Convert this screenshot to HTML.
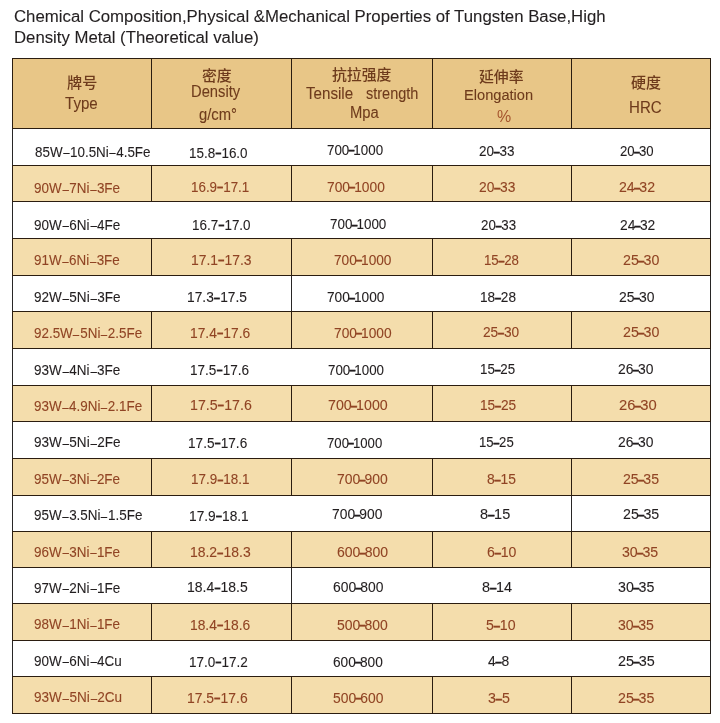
<!DOCTYPE html><html><head><meta charset="utf-8"><style>
html,body{margin:0;padding:0;background:#fff;}
body{width:720px;height:723px;position:relative;overflow:hidden;font-family:"Liberation Sans","Noto Sans CJK SC",Arial,sans-serif;}
.t{position:absolute;white-space:nowrap;transform-origin:0 0;line-height:1;-webkit-text-stroke:0.1px currentColor;}
.d{font-weight:bold;font-size:0.7em;margin:0 0.5px;vertical-align:1.7px;-webkit-text-stroke:1px currentColor;}.m3{margin:0 -1.2px !important;vertical-align:0.5px !important;}.m4{margin:0 -0.4px !important;vertical-align:0 !important;}.m5{margin:0 -1px !important;vertical-align:0 !important;}.d2{margin:0 -1.6px;font-size:0.85em;vertical-align:1.3px;-webkit-text-stroke:0.6px currentColor;}.ns{-webkit-text-stroke:0;}.m{display:inline-block;transform:scaleX(0.86);vertical-align:-0.6px;}.cj{-webkit-text-stroke:0;font-weight:500;}
.b{position:absolute;}
</style></head><body>
<div class="b" style="left:12px;top:58px;width:699px;height:71px;background:#e8c687"></div>
<div class="b" style="left:12px;top:165px;width:699px;height:37px;background:#f4ddac"></div>
<div class="b" style="left:12px;top:238px;width:699px;height:38px;background:#f4ddac"></div>
<div class="b" style="left:12px;top:311px;width:699px;height:38px;background:#f4ddac"></div>
<div class="b" style="left:12px;top:385px;width:699px;height:37px;background:#f4ddac"></div>
<div class="b" style="left:12px;top:458px;width:699px;height:38px;background:#f4ddac"></div>
<div class="b" style="left:12px;top:531px;width:699px;height:37px;background:#f4ddac"></div>
<div class="b" style="left:12px;top:603px;width:699px;height:38px;background:#f4ddac"></div>
<div class="b" style="left:12px;top:676px;width:699px;height:38px;background:#f4ddac"></div>
<div class="b" style="left:12px;top:58px;width:699px;height:1px;background:#2b1d10"></div>
<div class="b" style="left:12px;top:128px;width:699px;height:1px;background:#2b1d10"></div>
<div class="b" style="left:12px;top:165px;width:699px;height:1px;background:#2b1d10"></div>
<div class="b" style="left:12px;top:201px;width:699px;height:1px;background:#2b1d10"></div>
<div class="b" style="left:12px;top:238px;width:699px;height:1px;background:#2b1d10"></div>
<div class="b" style="left:12px;top:275px;width:699px;height:1px;background:#2b1d10"></div>
<div class="b" style="left:12px;top:311px;width:699px;height:1px;background:#2b1d10"></div>
<div class="b" style="left:12px;top:348px;width:699px;height:1px;background:#2b1d10"></div>
<div class="b" style="left:12px;top:385px;width:699px;height:1px;background:#2b1d10"></div>
<div class="b" style="left:12px;top:421px;width:699px;height:1px;background:#2b1d10"></div>
<div class="b" style="left:12px;top:458px;width:699px;height:1px;background:#2b1d10"></div>
<div class="b" style="left:12px;top:495px;width:699px;height:1px;background:#2b1d10"></div>
<div class="b" style="left:12px;top:531px;width:699px;height:1px;background:#2b1d10"></div>
<div class="b" style="left:12px;top:567px;width:699px;height:1px;background:#2b1d10"></div>
<div class="b" style="left:12px;top:603px;width:699px;height:1px;background:#2b1d10"></div>
<div class="b" style="left:12px;top:640px;width:699px;height:1px;background:#2b1d10"></div>
<div class="b" style="left:12px;top:676px;width:699px;height:1px;background:#2b1d10"></div>
<div class="b" style="left:12px;top:713px;width:699px;height:1px;background:#2b1d10"></div>
<div class="b" style="left:12px;top:58px;width:1px;height:71px;background:#2b1d10"></div>
<div class="b" style="left:12px;top:129px;width:1px;height:36px;background:#282626"></div>
<div class="b" style="left:12px;top:165px;width:1px;height:37px;background:#2b1d10"></div>
<div class="b" style="left:12px;top:202px;width:1px;height:36px;background:#282626"></div>
<div class="b" style="left:12px;top:238px;width:1px;height:38px;background:#2b1d10"></div>
<div class="b" style="left:12px;top:276px;width:1px;height:35px;background:#282626"></div>
<div class="b" style="left:12px;top:311px;width:1px;height:38px;background:#2b1d10"></div>
<div class="b" style="left:12px;top:349px;width:1px;height:36px;background:#282626"></div>
<div class="b" style="left:12px;top:385px;width:1px;height:37px;background:#2b1d10"></div>
<div class="b" style="left:12px;top:422px;width:1px;height:36px;background:#282626"></div>
<div class="b" style="left:12px;top:458px;width:1px;height:38px;background:#2b1d10"></div>
<div class="b" style="left:12px;top:496px;width:1px;height:35px;background:#282626"></div>
<div class="b" style="left:12px;top:531px;width:1px;height:37px;background:#2b1d10"></div>
<div class="b" style="left:12px;top:568px;width:1px;height:35px;background:#282626"></div>
<div class="b" style="left:12px;top:603px;width:1px;height:38px;background:#2b1d10"></div>
<div class="b" style="left:12px;top:641px;width:1px;height:35px;background:#282626"></div>
<div class="b" style="left:12px;top:676px;width:1px;height:38px;background:#2b1d10"></div>
<div class="b" style="left:151px;top:58px;width:1px;height:71px;background:#2b1d10"></div>
<div class="b" style="left:151px;top:165px;width:1px;height:37px;background:#2b1d10"></div>
<div class="b" style="left:151px;top:238px;width:1px;height:38px;background:#2b1d10"></div>
<div class="b" style="left:151px;top:311px;width:1px;height:38px;background:#2b1d10"></div>
<div class="b" style="left:151px;top:385px;width:1px;height:37px;background:#2b1d10"></div>
<div class="b" style="left:151px;top:458px;width:1px;height:38px;background:#2b1d10"></div>
<div class="b" style="left:151px;top:531px;width:1px;height:37px;background:#2b1d10"></div>
<div class="b" style="left:151px;top:603px;width:1px;height:38px;background:#2b1d10"></div>
<div class="b" style="left:151px;top:676px;width:1px;height:38px;background:#2b1d10"></div>
<div class="b" style="left:291px;top:58px;width:1px;height:71px;background:#2b1d10"></div>
<div class="b" style="left:291px;top:165px;width:1px;height:37px;background:#2b1d10"></div>
<div class="b" style="left:291px;top:238px;width:1px;height:38px;background:#2b1d10"></div>
<div class="b" style="left:291px;top:276px;width:1px;height:35px;background:#282626"></div>
<div class="b" style="left:291px;top:311px;width:1px;height:38px;background:#2b1d10"></div>
<div class="b" style="left:291px;top:385px;width:1px;height:37px;background:#2b1d10"></div>
<div class="b" style="left:291px;top:458px;width:1px;height:38px;background:#2b1d10"></div>
<div class="b" style="left:291px;top:531px;width:1px;height:37px;background:#2b1d10"></div>
<div class="b" style="left:291px;top:568px;width:1px;height:35px;background:#282626"></div>
<div class="b" style="left:291px;top:603px;width:1px;height:38px;background:#2b1d10"></div>
<div class="b" style="left:291px;top:676px;width:1px;height:38px;background:#2b1d10"></div>
<div class="b" style="left:432px;top:58px;width:1px;height:71px;background:#2b1d10"></div>
<div class="b" style="left:432px;top:165px;width:1px;height:37px;background:#2b1d10"></div>
<div class="b" style="left:432px;top:238px;width:1px;height:38px;background:#2b1d10"></div>
<div class="b" style="left:432px;top:311px;width:1px;height:38px;background:#2b1d10"></div>
<div class="b" style="left:432px;top:385px;width:1px;height:37px;background:#2b1d10"></div>
<div class="b" style="left:432px;top:458px;width:1px;height:38px;background:#2b1d10"></div>
<div class="b" style="left:432px;top:531px;width:1px;height:37px;background:#2b1d10"></div>
<div class="b" style="left:432px;top:603px;width:1px;height:38px;background:#2b1d10"></div>
<div class="b" style="left:432px;top:676px;width:1px;height:38px;background:#2b1d10"></div>
<div class="b" style="left:571px;top:58px;width:1px;height:71px;background:#2b1d10"></div>
<div class="b" style="left:571px;top:165px;width:1px;height:37px;background:#2b1d10"></div>
<div class="b" style="left:571px;top:238px;width:1px;height:38px;background:#2b1d10"></div>
<div class="b" style="left:571px;top:311px;width:1px;height:38px;background:#2b1d10"></div>
<div class="b" style="left:571px;top:385px;width:1px;height:37px;background:#2b1d10"></div>
<div class="b" style="left:571px;top:458px;width:1px;height:38px;background:#2b1d10"></div>
<div class="b" style="left:571px;top:496px;width:1px;height:35px;background:#282626"></div>
<div class="b" style="left:571px;top:531px;width:1px;height:37px;background:#2b1d10"></div>
<div class="b" style="left:571px;top:603px;width:1px;height:38px;background:#2b1d10"></div>
<div class="b" style="left:571px;top:676px;width:1px;height:38px;background:#2b1d10"></div>
<div class="b" style="left:710px;top:58px;width:1px;height:71px;background:#2b1d10"></div>
<div class="b" style="left:710px;top:129px;width:1px;height:36px;background:#282626"></div>
<div class="b" style="left:710px;top:165px;width:1px;height:37px;background:#2b1d10"></div>
<div class="b" style="left:710px;top:202px;width:1px;height:36px;background:#282626"></div>
<div class="b" style="left:710px;top:238px;width:1px;height:38px;background:#2b1d10"></div>
<div class="b" style="left:710px;top:276px;width:1px;height:35px;background:#282626"></div>
<div class="b" style="left:710px;top:311px;width:1px;height:38px;background:#2b1d10"></div>
<div class="b" style="left:710px;top:349px;width:1px;height:36px;background:#282626"></div>
<div class="b" style="left:710px;top:385px;width:1px;height:37px;background:#2b1d10"></div>
<div class="b" style="left:710px;top:422px;width:1px;height:36px;background:#282626"></div>
<div class="b" style="left:710px;top:458px;width:1px;height:38px;background:#2b1d10"></div>
<div class="b" style="left:710px;top:496px;width:1px;height:35px;background:#282626"></div>
<div class="b" style="left:710px;top:531px;width:1px;height:37px;background:#2b1d10"></div>
<div class="b" style="left:710px;top:568px;width:1px;height:35px;background:#282626"></div>
<div class="b" style="left:710px;top:603px;width:1px;height:38px;background:#2b1d10"></div>
<div class="b" style="left:710px;top:641px;width:1px;height:35px;background:#282626"></div>
<div class="b" style="left:710px;top:676px;width:1px;height:38px;background:#2b1d10"></div>
<div class="t " id="t1" style="left:13.74px;top:8.70px;font-size:16px;color:#231f20;transform:scaleX(1.0493);">Chemical Composition,Physical &amp;Mechanical Properties of Tungsten Base,High</div>
<div class="t " id="t2" style="left:13.87px;top:29.76px;font-size:16px;color:#231f20;transform:scaleX(1.0468);">Density Metal (Theoretical value)</div>
<div class="t cj" id="h1a" style="left:66.56px;top:74.55px;font-size:15px;color:#6e3b1c;transform:scaleX(1.0094);">牌号</div>
<div class="t " id="h1b" style="left:64.68px;top:96.31px;font-size:16px;color:#6e3b1c;transform:scaleX(0.9429);">Type</div>
<div class="t cj" id="h2a" style="left:201.58px;top:67.97px;font-size:15px;color:#6e3b1c;transform:scaleX(0.9911);">密度</div>
<div class="t " id="h2b" style="left:190.86px;top:84.31px;font-size:16px;color:#6e3b1c;transform:scaleX(0.9204);">Density</div>
<div class="t " id="h2c" style="left:198.56px;top:107.01px;font-size:16px;color:#6e3b1c;transform:scaleX(0.9235);">g/cm°</div>
<div class="t cj" id="h3a" style="left:331.78px;top:67.41px;font-size:15px;color:#6e3b1c;transform:scaleX(0.9908);">抗拉强度</div>
<div class="t " id="h3b" style="left:305.70px;top:85.81px;font-size:16px;color:#6e3b1c;transform:scaleX(0.9465);">Tensile</div>
<div class="t " id="h3c" style="left:365.71px;top:85.81px;font-size:16px;color:#6e3b1c;transform:scaleX(0.9063);">strength</div>
<div class="t " id="h3d" style="left:349.80px;top:104.51px;font-size:16px;color:#6e3b1c;transform:scaleX(0.9240);">Mpa</div>
<div class="t cj" id="h4a" style="left:478.82px;top:68.69px;font-size:15px;color:#6e3b1c;transform:scaleX(0.9907);">延伸率</div>
<div class="t " id="h4b" style="left:463.72px;top:87.40px;font-size:15.5px;color:#6e3b1c;transform:scaleX(0.9432);">Elongation</div>
<div class="t ns" id="h4c" style="left:496.54px;top:109.01px;font-size:16px;color:#a5552e;transform:scaleX(0.9976);">%</div>
<div class="t cj" id="h5a" style="left:630.81px;top:75.15px;font-size:15px;color:#6e3b1c;transform:scaleX(1.0012);">硬度</div>
<div class="t " id="h5b" style="left:628.69px;top:99.70px;font-size:16px;color:#6e3b1c;transform:scaleX(0.9427);">HRC</div>
<div class="t " id="c1r0" style="left:34.81px;top:144.71px;font-size:14px;color:#231f20;transform:scaleX(0.9573);">85W<span class="m">–</span>10.5Ni<span class="m">–</span>4.5Fe</div>
<div class="t " id="c2r0" style="left:188.74px;top:145.71px;font-size:14px;color:#231f20;transform:scaleX(0.9613);">15.8<span class="d">–</span>16.0</div>
<div class="t " id="c3r0" style="left:326.69px;top:142.91px;font-size:14px;color:#231f20;transform:scaleX(0.9549);">700<span class="d d2 m3">–</span>1000</div>
<div class="t " id="c4r0" style="left:478.78px;top:143.91px;font-size:14px;color:#231f20;transform:scaleX(0.9595);">20<span class="d d2 m4">–</span>33</div>
<div class="t " id="c5r0" style="left:619.71px;top:143.91px;font-size:14px;color:#231f20;transform:scaleX(0.9399);">20<span class="d d2 m5">–</span>30</div>
<div class="t " id="c1r1" style="left:33.77px;top:180.91px;font-size:14px;color:#904424;transform:scaleX(0.9614);">90W<span class="m">–</span>7Ni<span class="m">–</span>3Fe</div>
<div class="t " id="c2r1" style="left:190.65px;top:179.91px;font-size:14px;color:#904424;transform:scaleX(0.9558);">16.9<span class="d">–</span>17.1</div>
<div class="t " id="c3r1" style="left:326.67px;top:179.91px;font-size:14px;color:#904424;transform:scaleX(0.9845);">700<span class="d d2 m3">–</span>1000</div>
<div class="t " id="c4r1" style="left:478.66px;top:179.91px;font-size:14px;color:#904424;transform:scaleX(0.9853);">20<span class="d d2 m4">–</span>33</div>
<div class="t " id="c5r1" style="left:618.61px;top:179.91px;font-size:14px;color:#904424;transform:scaleX(1.0070);">24<span class="d d2 m5">–</span>32</div>
<div class="t " id="c1r2" style="left:33.65px;top:217.71px;font-size:14px;color:#231f20;transform:scaleX(0.9634);">90W<span class="m">–</span>6Ni<span class="m">–</span>4Fe</div>
<div class="t " id="c2r2" style="left:191.71px;top:218.10px;font-size:14px;color:#231f20;transform:scaleX(0.9614);">16.7<span class="d">–</span>17.0</div>
<div class="t " id="c3r2" style="left:329.60px;top:217.41px;font-size:14px;color:#231f20;transform:scaleX(0.9589);">700<span class="d d2 m3">–</span>1000</div>
<div class="t " id="c4r2" style="left:480.77px;top:217.91px;font-size:14px;color:#231f20;transform:scaleX(0.9492);">20<span class="d d2 m4">–</span>33</div>
<div class="t " id="c5r2" style="left:619.57px;top:217.91px;font-size:14px;color:#231f20;transform:scaleX(0.9844);">24<span class="d d2 m5">–</span>32</div>
<div class="t " id="c1r3" style="left:33.79px;top:253.41px;font-size:14px;color:#904424;transform:scaleX(0.9580);">91W<span class="m">–</span>6Ni<span class="m">–</span>3Fe</div>
<div class="t " id="c2r3" style="left:190.60px;top:252.91px;font-size:14px;color:#904424;transform:scaleX(0.9936);">17.1<span class="d">–</span>17.3</div>
<div class="t " id="c3r3" style="left:333.59px;top:252.80px;font-size:14px;color:#904424;transform:scaleX(0.9784);">700<span class="d d2 m3">–</span>1000</div>
<div class="t " id="c4r3" style="left:483.52px;top:252.80px;font-size:14px;color:#904424;transform:scaleX(0.9451);">15<span class="d d2 m4">–</span>28</div>
<div class="t " id="c5r3" style="left:622.58px;top:252.80px;font-size:14px;color:#904424;transform:scaleX(1.0160);">25<span class="d d2 m5">–</span>30</div>
<div class="t " id="c1r4" style="left:33.65px;top:290.41px;font-size:14px;color:#231f20;transform:scaleX(0.9660);">92W<span class="m">–</span>5Ni<span class="m">–</span>3Fe</div>
<div class="t " id="c2r4" style="left:186.61px;top:290.41px;font-size:14px;color:#231f20;transform:scaleX(0.9832);">17.3<span class="d">–</span>17.5</div>
<div class="t " id="c3r4" style="left:326.65px;top:290.10px;font-size:14px;color:#231f20;transform:scaleX(0.9778);">700<span class="d d2 m3">–</span>1000</div>
<div class="t " id="c4r4" style="left:479.50px;top:290.10px;font-size:14px;color:#231f20;transform:scaleX(0.9717);">18<span class="d d2 m4">–</span>28</div>
<div class="t " id="c5r4" style="left:618.54px;top:290.10px;font-size:14px;color:#231f20;transform:scaleX(0.9939);">25<span class="d d2 m5">–</span>30</div>
<div class="t " id="c1r5" style="left:33.80px;top:326.41px;font-size:14px;color:#904424;transform:scaleX(0.9584);">92.5W<span class="m">–</span>5Ni<span class="m">–</span>2.5Fe</div>
<div class="t " id="c2r5" style="left:189.50px;top:325.91px;font-size:14px;color:#904424;transform:scaleX(0.9870);">17.4<span class="d">–</span>17.6</div>
<div class="t " id="c3r5" style="left:333.60px;top:325.91px;font-size:14px;color:#904424;transform:scaleX(0.9813);">700<span class="d d2 m3">–</span>1000</div>
<div class="t " id="c4r5" style="left:482.79px;top:324.71px;font-size:14px;color:#904424;transform:scaleX(0.9778);">25<span class="d d2 m4">–</span>30</div>
<div class="t " id="c5r5" style="left:622.58px;top:324.71px;font-size:14px;color:#904424;transform:scaleX(1.0160);">25<span class="d d2 m5">–</span>30</div>
<div class="t " id="c1r6" style="left:33.65px;top:362.91px;font-size:14px;color:#231f20;transform:scaleX(0.9634);">93W<span class="m">–</span>4Ni<span class="m">–</span>3Fe</div>
<div class="t " id="c2r6" style="left:189.51px;top:363.10px;font-size:14px;color:#231f20;transform:scaleX(0.9696);">17.5<span class="d">–</span>17.6</div>
<div class="t " id="c3r6" style="left:327.61px;top:362.91px;font-size:14px;color:#231f20;transform:scaleX(0.9532);">700<span class="d d2 m3">–</span>1000</div>
<div class="t " id="c4r6" style="left:479.62px;top:361.91px;font-size:14px;color:#231f20;transform:scaleX(0.9505);">15<span class="d d2 m4">–</span>25</div>
<div class="t " id="c5r6" style="left:617.67px;top:361.91px;font-size:14px;color:#231f20;transform:scaleX(0.9918);">26<span class="d d2 m5">–</span>30</div>
<div class="t " id="c1r7" style="left:33.80px;top:398.91px;font-size:14px;color:#904424;transform:scaleX(0.9584);">93W<span class="m">–</span>4.9Ni<span class="m">–</span>2.1Fe</div>
<div class="t " id="c2r7" style="left:189.72px;top:398.10px;font-size:14px;color:#904424;transform:scaleX(1.0134);">17.5<span class="d">–</span>17.6</div>
<div class="t " id="c3r7" style="left:327.57px;top:398.30px;font-size:14px;color:#904424;transform:scaleX(1.0164);">700<span class="d d2 m3">–</span>1000</div>
<div class="t " id="c4r7" style="left:479.68px;top:398.30px;font-size:14px;color:#904424;transform:scaleX(0.9758);">15<span class="d d2 m4">–</span>25</div>
<div class="t " id="c5r7" style="left:618.53px;top:398.30px;font-size:14px;color:#904424;transform:scaleX(1.0546);">26<span class="d d2 m5">–</span>30</div>
<div class="t " id="c1r8" style="left:33.65px;top:435.41px;font-size:14px;color:#231f20;transform:scaleX(0.9660);">93W<span class="m">–</span>5Ni<span class="m">–</span>2Fe</div>
<div class="t " id="c2r8" style="left:187.69px;top:435.71px;font-size:14px;color:#231f20;transform:scaleX(0.9715);">17.5<span class="d">–</span>17.6</div>
<div class="t " id="c3r8" style="left:326.65px;top:435.71px;font-size:14px;color:#231f20;transform:scaleX(0.9401);">700<span class="d d2 m3">–</span>1000</div>
<div class="t " id="c4r8" style="left:478.51px;top:434.91px;font-size:14px;color:#231f20;transform:scaleX(0.9389);">15<span class="d d2 m4">–</span>25</div>
<div class="t " id="c5r8" style="left:617.67px;top:434.91px;font-size:14px;color:#231f20;transform:scaleX(0.9918);">26<span class="d d2 m5">–</span>30</div>
<div class="t " id="c1r9" style="left:33.77px;top:471.71px;font-size:14px;color:#904424;transform:scaleX(0.9614);">95W<span class="m">–</span>3Ni<span class="m">–</span>2Fe</div>
<div class="t " id="c2r9" style="left:190.73px;top:472.41px;font-size:14px;color:#904424;transform:scaleX(0.9600);">17.9<span class="d">–</span>18.1</div>
<div class="t " id="c3r9" style="left:336.55px;top:472.41px;font-size:14px;color:#904424;transform:scaleX(0.9959);">700<span class="d d2 m3">–</span>900</div>
<div class="t " id="c4r9" style="left:486.58px;top:472.41px;font-size:14px;color:#904424;transform:scaleX(0.9885);">8<span class="d d2 m4">–</span>15</div>
<div class="t " id="c5r9" style="left:622.61px;top:472.41px;font-size:14px;color:#904424;transform:scaleX(1.0076);">25<span class="d d2 m5">–</span>35</div>
<div class="t " id="c1r10" style="left:33.66px;top:508.10px;font-size:14px;color:#231f20;transform:scaleX(0.9599);">95W<span class="m">–</span>3.5Ni<span class="m">–</span>1.5Fe</div>
<div class="t " id="c2r10" style="left:188.78px;top:508.71px;font-size:14px;color:#231f20;transform:scaleX(0.9802);">17.9<span class="d">–</span>18.1</div>
<div class="t " id="c3r10" style="left:331.60px;top:507.41px;font-size:14px;color:#231f20;transform:scaleX(0.9892);">700<span class="d d2 m3">–</span>900</div>
<div class="t " id="c4r10" style="left:479.71px;top:507.41px;font-size:14px;color:#231f20;transform:scaleX(1.0352);">8<span class="d d2 m4">–</span>15</div>
<div class="t " id="c5r10" style="left:622.50px;top:506.71px;font-size:14px;color:#231f20;transform:scaleX(1.0130);">25<span class="d d2 m5">–</span>35</div>
<div class="t " id="c1r11" style="left:33.77px;top:544.71px;font-size:14px;color:#904424;transform:scaleX(0.9614);">96W<span class="m">–</span>3Ni<span class="m">–</span>1Fe</div>
<div class="t " id="c2r11" style="left:189.64px;top:545.41px;font-size:14px;color:#904424;transform:scaleX(0.9954);">18.2<span class="d">–</span>18.3</div>
<div class="t " id="c3r11" style="left:336.71px;top:545.10px;font-size:14px;color:#904424;transform:scaleX(1.0015);">600<span class="d d2 m3">–</span>800</div>
<div class="t " id="c4r11" style="left:486.70px;top:545.10px;font-size:14px;color:#904424;transform:scaleX(1.0068);">6<span class="d d2 m4">–</span>10</div>
<div class="t " id="c5r11" style="left:621.81px;top:545.10px;font-size:14px;color:#904424;transform:scaleX(1.0109);">30<span class="d d2 m5">–</span>35</div>
<div class="t " id="c1r12" style="left:33.65px;top:580.71px;font-size:14px;color:#231f20;transform:scaleX(0.9634);">97W<span class="m">–</span>2Ni<span class="m">–</span>1Fe</div>
<div class="t " id="c2r12" style="left:186.76px;top:580.41px;font-size:14px;color:#231f20;transform:scaleX(0.9969);">18.4<span class="d">–</span>18.5</div>
<div class="t " id="c3r12" style="left:332.64px;top:580.41px;font-size:14px;color:#231f20;transform:scaleX(0.9914);">600<span class="d d2 m3">–</span>800</div>
<div class="t " id="c4r12" style="left:481.67px;top:580.41px;font-size:14px;color:#231f20;transform:scaleX(1.0305);">8<span class="d d2 m4">–</span>14</div>
<div class="t " id="c5r12" style="left:617.64px;top:580.41px;font-size:14px;color:#231f20;transform:scaleX(1.0152);">30<span class="d d2 m5">–</span>35</div>
<div class="t " id="c1r13" style="left:33.77px;top:617.10px;font-size:14px;color:#904424;transform:scaleX(0.9614);">98W<span class="m">–</span>1Ni<span class="m">–</span>1Fe</div>
<div class="t " id="c2r13" style="left:189.50px;top:617.71px;font-size:14px;color:#904424;transform:scaleX(0.9870);">18.4<span class="d">–</span>18.6</div>
<div class="t " id="c3r13" style="left:336.73px;top:617.71px;font-size:14px;color:#904424;transform:scaleX(0.9974);">500<span class="d d2 m3">–</span>800</div>
<div class="t " id="c4r13" style="left:485.68px;top:617.71px;font-size:14px;color:#904424;transform:scaleX(1.0109);">5<span class="d d2 m4">–</span>10</div>
<div class="t " id="c5r13" style="left:617.57px;top:617.71px;font-size:14px;color:#904424;transform:scaleX(1.0040);">30<span class="d d2 m5">–</span>35</div>
<div class="t " id="c1r14" style="left:33.66px;top:653.71px;font-size:14px;color:#231f20;transform:scaleX(0.9631);">90W<span class="m">–</span>6Ni<span class="m">–</span>4Cu</div>
<div class="t " id="c2r14" style="left:188.52px;top:654.71px;font-size:14px;color:#231f20;transform:scaleX(0.9663);">17.0<span class="d">–</span>17.2</div>
<div class="t " id="c3r14" style="left:332.67px;top:654.71px;font-size:14px;color:#231f20;transform:scaleX(0.9780);">600<span class="d d2 m3">–</span>800</div>
<div class="t " id="c4r14" style="left:487.79px;top:653.71px;font-size:14px;color:#231f20;transform:scaleX(0.9890);">4<span class="d d2 m4">–</span>8</div>
<div class="t " id="c5r14" style="left:617.79px;top:653.91px;font-size:14px;color:#231f20;transform:scaleX(1.0266);">25<span class="d d2 m5">–</span>35</div>
<div class="t " id="c1r15" style="left:33.75px;top:690.10px;font-size:14px;color:#904424;transform:scaleX(0.9675);">93W<span class="m">–</span>5Ni<span class="m">–</span>2Cu</div>
<div class="t " id="c2r15" style="left:186.93px;top:690.71px;font-size:14px;color:#904424;transform:scaleX(0.9953);">17.5<span class="d">–</span>17.6</div>
<div class="t " id="c3r15" style="left:332.73px;top:690.71px;font-size:14px;color:#904424;transform:scaleX(0.9903);">500<span class="d d2 m3">–</span>600</div>
<div class="t " id="c4r15" style="left:487.78px;top:690.91px;font-size:14px;color:#904424;transform:scaleX(1.0173);">3<span class="d d2 m4">–</span>5</div>
<div class="t " id="c5r15" style="left:617.56px;top:690.71px;font-size:14px;color:#904424;transform:scaleX(1.0148);">25<span class="d d2 m5">–</span>35</div>
</body></html>
